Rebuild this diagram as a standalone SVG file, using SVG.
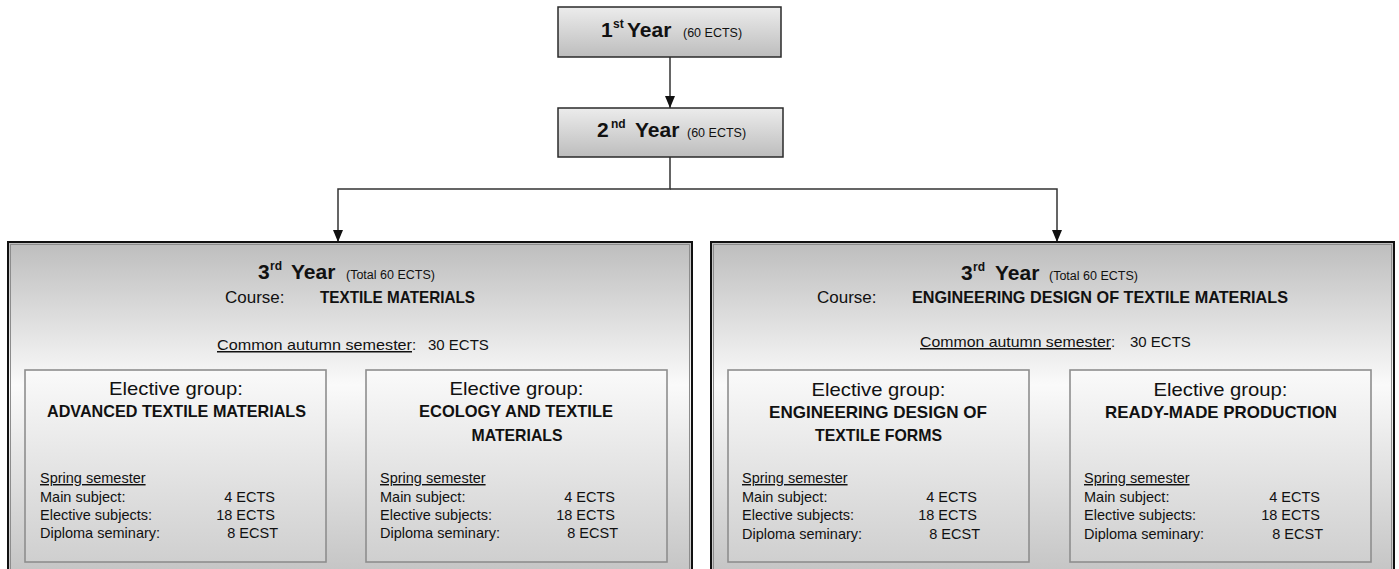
<svg xmlns="http://www.w3.org/2000/svg" width="1399" height="569" viewBox="0 0 1399 569">
<style>
text{font-family:"Liberation Sans",Arial,sans-serif;fill:#111}
.yr{font-weight:bold;font-size:21px}
.sup{font-weight:bold;font-size:12px}
.sm{font-size:12.5px}
.course{font-size:17px}
.btitle{font-weight:bold;font-size:17px}
.eg{font-size:19px}
.common{font-size:15px}
.ul{text-decoration:underline}
.sp{font-size:14.5px}
.val{font-size:14.5px;text-anchor:end}
.mid{text-anchor:middle}
.yearbox{fill:url(#gYear);stroke:#2a2a2a;stroke-width:1.5}
.big{fill:url(#gBig);stroke:#111;stroke-width:2}
.bigin{fill:none;stroke:#8c8c8c;stroke-width:1}
.inner{fill:url(#gInner);stroke:#8e8e8e;stroke-width:1.6}
.conn{fill:none;stroke:#333;stroke-width:1.5}
</style>
<defs>
<linearGradient id="gYear" x1="0" y1="0" x2="0" y2="1">
<stop offset="0" stop-color="#ececec"/>
<stop offset="1" stop-color="#bdbdbd"/>
</linearGradient>
<linearGradient id="gBig" x1="0" y1="0" x2="0" y2="1">
<stop offset="0" stop-color="#bdbdbd"/>
<stop offset="0.42" stop-color="#fafafa"/>
<stop offset="1" stop-color="#c2c2c2"/>
</linearGradient>
<linearGradient id="gInner" x1="0" y1="0" x2="0" y2="1">
<stop offset="0" stop-color="#fafafa"/>
<stop offset="1" stop-color="#cfcfcf"/>
</linearGradient>
<marker id="arr" viewBox="0 0 12 10" refX="12" refY="5" markerWidth="12" markerHeight="10" markerUnits="userSpaceOnUse" orient="auto">
<path d="M0,0 L12,5 L0,10 Z" fill="#111"/>
</marker>
</defs>

<g id="connectors">
<line class="conn" x1="670" y1="57" x2="670" y2="108" marker-end="url(#arr)"/>
<polyline class="conn" points="670,157 670,189 338,189 338,242" marker-end="url(#arr)"/>
<polyline class="conn" points="670,189 1057,189 1057,242" marker-end="url(#arr)"/>
</g>

<g id="year1">
<rect class="yearbox" x="558" y="7" width="223" height="50"/>
<text y="37"><tspan class="yr" x="601">1</tspan><tspan class="sup" x="613" y="28">st</tspan><tspan class="yr" x="627" y="37">Year</tspan><tspan class="sm" x="683" y="37">(60 ECTS)</tspan></text>
</g>

<g id="year2">
<rect class="yearbox" x="558" y="108" width="225" height="49"/>
<text y="137"><tspan class="yr" x="597">2</tspan><tspan class="sup" x="611" y="128">nd</tspan><tspan class="yr" x="635" y="137">Year</tspan><tspan class="sm" x="687" y="137">(60 ECTS)</tspan></text>
</g>

<g id="year3-textile">
<rect class="big" x="8" y="242" width="684" height="340"/>
<rect class="bigin" x="10.5" y="244.5" width="679" height="340"/>
<text y="279"><tspan class="yr" x="258">3</tspan><tspan class="sup" x="270" y="270">rd</tspan><tspan class="yr" x="291" y="279">Year</tspan><tspan class="sm" x="346" y="279" font-size="13">(Total 60 ECTS)</tspan></text>
<text class="course" x="225" y="303">Course:</text>
<text class="btitle" x="320" y="303" textLength="155" lengthAdjust="spacingAndGlyphs">TEXTILE MATERIALS</text>
<text class="common" x="217" y="350"><tspan class="ul" textLength="195" lengthAdjust="spacingAndGlyphs">Common autumn semester</tspan>:</text>
<text class="common" x="428" y="350">30 ECTS</text>

<g id="grp-advanced">
<rect class="inner" x="25" y="370" width="301" height="192"/>
<text class="eg mid" x="176" y="395" textLength="134" lengthAdjust="spacingAndGlyphs">Elective group:</text>
<text class="btitle mid" x="176.5" y="417" textLength="259" lengthAdjust="spacingAndGlyphs">ADVANCED TEXTILE MATERIALS</text>
<text class="sp ul" x="40" y="483">Spring semester</text>
<text class="sp" x="40" y="502">Main subject:</text>
<text class="sp" x="40" y="520">Elective subjects:</text>
<text class="sp" x="40" y="538">Diploma seminary:</text>
<text class="val" x="275" y="502">4 ECTS</text>
<text class="val" x="275" y="520">18 ECTS</text>
<text class="val" x="278" y="538">8 ECST</text>
</g>

<g id="grp-ecology">
<rect class="inner" x="366" y="370" width="301" height="192"/>
<text class="eg mid" x="516.5" y="395" textLength="134" lengthAdjust="spacingAndGlyphs">Elective group:</text>
<text class="btitle mid" x="516" y="417" textLength="194" lengthAdjust="spacingAndGlyphs">ECOLOGY AND TEXTILE</text>
<text class="btitle mid" x="517" y="441" textLength="91" lengthAdjust="spacingAndGlyphs">MATERIALS</text>
<text class="sp ul" x="380" y="483">Spring semester</text>
<text class="sp" x="380" y="502">Main subject:</text>
<text class="sp" x="380" y="520">Elective subjects:</text>
<text class="sp" x="380" y="538">Diploma seminary:</text>
<text class="val" x="615" y="502">4 ECTS</text>
<text class="val" x="615" y="520">18 ECTS</text>
<text class="val" x="618" y="538">8 ECST</text>
</g>
</g>

<g id="year3-engineering">
<rect class="big" x="711" y="242" width="683" height="340"/>
<rect class="bigin" x="713.5" y="244.5" width="678" height="340"/>
<text y="280"><tspan class="yr" x="961">3</tspan><tspan class="sup" x="973" y="271">rd</tspan><tspan class="yr" x="995" y="280">Year</tspan><tspan class="sm" x="1049" y="280" font-size="13">(Total 60 ECTS)</tspan></text>
<text class="course" x="817" y="303">Course:</text>
<text class="btitle" x="912" y="303" textLength="376" lengthAdjust="spacingAndGlyphs">ENGINEERING DESIGN OF TEXTILE MATERIALS</text>
<text class="common" x="920" y="347"><tspan class="ul" textLength="191" lengthAdjust="spacingAndGlyphs">Common autumn semester</tspan>:</text>
<text class="common" x="1130" y="347">30 ECTS</text>

<g id="grp-forms">
<rect class="inner" x="728" y="370" width="301" height="192"/>
<text class="eg mid" x="878.5" y="396" textLength="134" lengthAdjust="spacingAndGlyphs">Elective group:</text>
<text class="btitle mid" x="878" y="418" textLength="218" lengthAdjust="spacingAndGlyphs">ENGINEERING DESIGN OF</text>
<text class="btitle mid" x="878.5" y="441" textLength="127" lengthAdjust="spacingAndGlyphs">TEXTILE FORMS</text>
<text class="sp ul" x="742" y="483">Spring semester</text>
<text class="sp" x="742" y="502">Main subject:</text>
<text class="sp" x="742" y="520">Elective subjects:</text>
<text class="sp" x="742" y="539">Diploma seminary:</text>
<text class="val" x="977" y="502">4 ECTS</text>
<text class="val" x="977" y="520">18 ECTS</text>
<text class="val" x="980" y="539">8 ECST</text>
</g>

<g id="grp-readymade">
<rect class="inner" x="1070" y="370" width="301" height="192"/>
<text class="eg mid" x="1220.5" y="396" textLength="134" lengthAdjust="spacingAndGlyphs">Elective group:</text>
<text class="btitle mid" x="1221" y="418" textLength="232" lengthAdjust="spacingAndGlyphs">READY-MADE PRODUCTION</text>
<text class="sp ul" x="1084" y="483">Spring semester</text>
<text class="sp" x="1084" y="502">Main subject:</text>
<text class="sp" x="1084" y="520">Elective subjects:</text>
<text class="sp" x="1084" y="539">Diploma seminary:</text>
<text class="val" x="1320" y="502">4 ECTS</text>
<text class="val" x="1320" y="520">18 ECTS</text>
<text class="val" x="1323" y="539">8 ECST</text>
</g>
</g>
</svg>
